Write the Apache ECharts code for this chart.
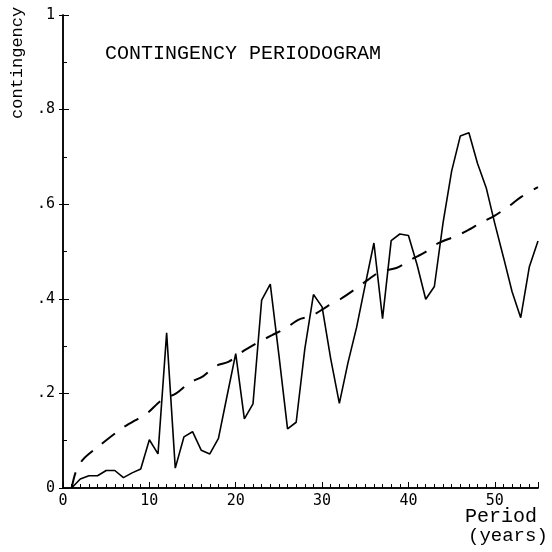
<!DOCTYPE html>
<html>
<head>
<meta charset="utf-8">
<script src="https://cdn.jsdelivr.net/npm/echarts@6/dist/echarts.min.js"></script>
<style>
  html, body { margin: 0; padding: 0; background: #fff; }
  #chart { width: 552px; height: 552px; }
</style>
</head>
<body>
<div id="chart"></div>
<script>
// periodogram values, one per period (years) 1..55
const periods = [1, 2, 3, 4, 5, 6, 7, 8, 9, 10, 11, 12, 13, 14, 15, 16, 17, 18, 19, 20,
  21, 22, 23, 24, 25, 26, 27, 28, 29, 30, 31, 32, 33, 34, 35, 36, 37, 38, 39, 40,
  41, 42, 43, 44, 45, 46, 47, 48, 49, 50, 51, 52, 53, 54, 55];
const contingency = [0.0, 0.019, 0.026, 0.026, 0.037, 0.037, 0.022, 0.032, 0.04, 0.102,
  0.072, 0.328, 0.042, 0.108, 0.119, 0.08, 0.072, 0.105, 0.195, 0.284,
  0.146, 0.178, 0.397, 0.431, 0.281, 0.125, 0.139, 0.294, 0.409, 0.383,
  0.273, 0.179, 0.265, 0.34, 0.43, 0.518, 0.358, 0.523, 0.537, 0.534,
  0.472, 0.399, 0.426, 0.56, 0.67, 0.744, 0.751, 0.686, 0.635, 0.559,
  0.488, 0.415, 0.36, 0.468, 0.522];

// dashed reference curve, read at irregular periods
const refPeriods = [1, 1.5, 2.3, 3.9, 6.9, 9.8, 11.3, 13.1, 14.6, 16.2, 17.7, 19.2, 21, 22.5,
  24.2, 25.8, 27.3, 28.8, 30.6, 32.1, 33.8, 35.3, 36.8, 38.6, 40.3, 41.9, 43.4,
  45.4, 46.8, 48.4, 50, 51.5, 53.1, 55];
const refValues = [0, 0.035, 0.06, 0.085, 0.127, 0.159, 0.184, 0.2, 0.222, 0.236, 0.258, 0.267, 0.291, 0.307,
  0.323, 0.338, 0.356, 0.364, 0.384, 0.399, 0.42, 0.44, 0.458, 0.465, 0.483, 0.498, 0.517,
  0.532, 0.544, 0.561, 0.576, 0.594, 0.616, 0.636];

const xTicks = [0, 10, 20, 30, 40, 50];
const yTicks = [0, 0.2, 0.4, 0.6, 0.8, 1];

const mono = 'DejaVu Sans Mono';
const chart = echarts.init(document.getElementById('chart'));

const fmtY = v => {
  if (v === 0) return '0';
  if (v === 1) return '1';
  return String(Math.round(v * 10) / 10).replace('0.', '.');
};

const option = {
  animation: false,
  backgroundColor: '#fff',
  grid: { left: 63, right: 14, top: 15, bottom: 64 },
  xAxis: [
    {
      type: 'value', min: 0, max: 55, interval: 10,
      axisLine: { lineStyle: { color: '#000', width: 1.5 } },
      axisTick: { inside: true, length: 6, lineStyle: { color: '#000' } },
      minorTick: { show: true, splitNumber: 10, length: 4, lineStyle: { color: '#000' } },
      splitLine: { show: false },
      axisLabel: {
        showMaxLabel: false, color: '#000', fontFamily: mono, fontSize: 15, margin: 6,
        formatter: v => xTicks.includes(v) ? String(v) : ''
      }
    },
    {
      type: 'value', min: 0, max: 55, position: 'top',
      axisLine: { show: true, lineStyle: { color: '#000', width: 1.5 } },
      axisTick: { show: false }, axisLabel: { show: false }, splitLine: { show: false }
    }
  ],
  yAxis: [
    {
      type: 'value', min: 0, max: 1, interval: 0.2,
      axisLine: { show: true, lineStyle: { color: '#000', width: 1.5 } },
      axisTick: { show: true, inside: true, length: 6, lineStyle: { color: '#000' } },
      minorTick: { show: true, splitNumber: 2, length: 4, lineStyle: { color: '#000' } },
      splitLine: { show: false },
      axisLabel: {
        color: '#000', fontFamily: mono, fontSize: 15, margin: 8,
        formatter: v => yTicks.some(t => Math.abs(t - v) < 1e-9) ? fmtY(v) : ''
      }
    },
    {
      type: 'value', min: 0, max: 1, interval: 0.2, position: 'right',
      axisLine: { show: true, lineStyle: { color: '#000', width: 1.5 } },
      axisTick: { show: true, inside: true, length: 4, lineStyle: { color: '#000' } },
      axisLabel: { show: false }, splitLine: { show: false }
    }
  ],
  graphic: [
    {
      type: 'text', left: 105, top: 44,
      style: { text: 'CONTINGENCY PERIODOGRAM', font: '20px "Liberation Mono"', fill: '#000' }
    },
    {
      type: 'text', x: 9, y: 119, rotation: Math.PI / 2,
      style: { text: 'contingency', font: '17px "Liberation Mono"', fill: '#000' }
    },
    {
      type: 'text', left: 465, top: 507,
      style: { text: 'Period', font: '20px "Liberation Mono"', fill: '#000' }
    },
    {
      type: 'text', left: 468, top: 526,
      style: { text: '(years)', font: '19px "Liberation Mono"', fill: '#000' }
    }
  ],
  series: [
    {
      type: 'line', name: 'contingency', showSymbol: false,
      data: periods.map((p, i) => [p, contingency[i]]),
      lineStyle: { color: '#000', width: 1.6 }
    },
    {
      type: 'line', name: 'reference', showSymbol: false, smooth: 0.3,
      data: refPeriods.map((p, i) => [p, refValues[i]]),
      lineStyle: { color: '#000', width: 2, type: [16, 12] }
    }
  ]
};

chart.setOption(option);
</script>
</body>
</html>
